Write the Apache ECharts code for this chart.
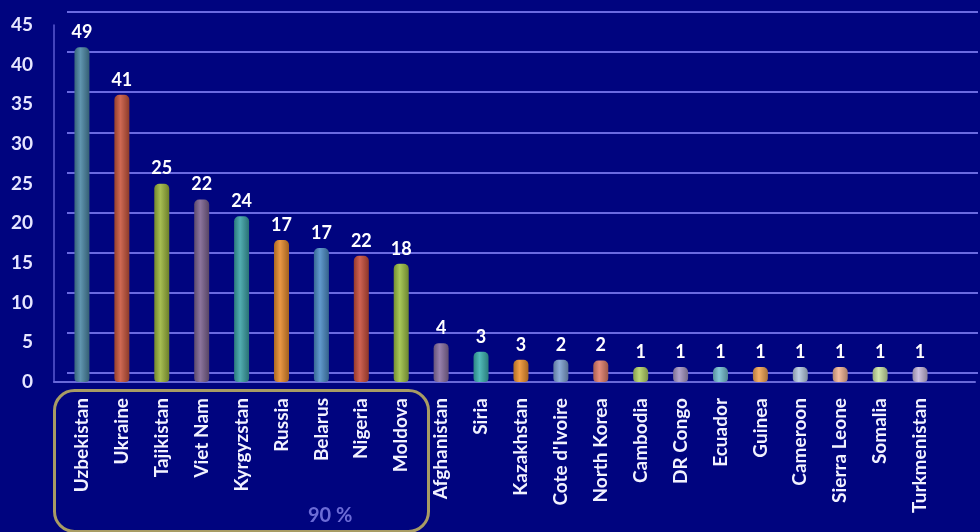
<!DOCTYPE html>
<html><head><meta charset="utf-8">
<script src="https://cdn.jsdelivr.net/npm/echarts@6/dist/echarts.min.js"></script>
<style>html,body{margin:0;padding:0;background:#00047f;}#c{width:980px;height:532px;}</style>
</head><body><div id="c"></div>
<script>
const categories = ['Uzbekistan','Ukraine','Tajikistan','Viet Nam','Kyrgyzstan','Russia','Belarus','Nigeria','Moldova','Afghanistan','Siria','Kazakhstan',"Cote d'Ivoire",'North Korea','Cambodia','DR Congo','Ecuador','Guinea','Cameroon','Sierra Leone','Somalia','Turkmenistan'];
const barValues = [42.2,36.2,25.0,23.0,20.9,17.9,16.9,15.9,14.9,4.9,3.8,2.8,2.8,2.7,1.9,1.9,1.9,1.9,1.9,1.9,1.9,1.9];
const labelValues = [49,41,25,22,24,17,17,22,18,4,3,3,2,2,1,1,1,1,1,1,1,1];
const yTicks = [0,5,10,15,20,25,30,35,40,45];
const palette = ['#4a86a4','#c8553c','#9bb53c','#7c6290','#3aa2a6','#e68a2c','#4b8cc6','#c94d3a','#9cc043','#8a70a2','#3ab2b0','#f0922e','#7fa2d2','#e27e6a','#b4d366','#a697c4','#74c0d2','#f2a452','#b6cbe2','#f2b494','#cce4a4','#c6b8dc'];

function shade(hex, f){
  const n = parseInt(hex.slice(1),16);
  let r=(n>>16)&255,g=(n>>8)&255,b=n&255;
  const m = v => Math.max(0,Math.min(255,Math.round(f<0? v*(1+f) : v+(255-v)*f)));
  return 'rgb('+m(r)+','+m(g)+','+m(b)+')';
}

const chart = echarts.init(document.getElementById('c'));
chart.setOption({
  backgroundColor: '#00047f',
  animation: false,
  grid: [
    {left: 62, right: 40, top: 25, bottom: 150},
    {left: 67, right: 2, top: 12, bottom: 159},
    {left: 54, right: 5, top: 25, bottom: 150}
  ],
  xAxis: [
    {gridIndex: 0, type: 'category', data: categories,
     axisLine: {show: false}, axisTick: {show: false},
     axisLabel: {rotate: 90, margin: 16, color: '#f2f2ff', fontFamily: 'Lato', fontWeight: 'bold', fontSize: 19, interval: 0}},
    {gridIndex: 1, type: 'category', data: categories, show: false},
    {gridIndex: 2, type: 'value', min: 0, max: 1, axisLabel: {show: false}, axisTick: {show: false}, splitLine: {show: false},
     axisLine: {show: true, lineStyle: {color: '#6868d8', width: 2}}}
  ],
  yAxis: [
    {gridIndex: 0, type: 'value', min: 0, max: 45, interval: 5, show: false},
    {gridIndex: 1, type: 'value', min: 0, max: 45, interval: 5, axisLabel: {show: false}, axisLine: {show: false}, axisTick: {show: false},
     splitLine: {show: true, lineStyle: {color: '#6a6ae0', width: 2}}},
    {gridIndex: 2, type: 'value', min: 0, max: 45, interval: 5,
     axisLine: {show: true, lineStyle: {color: '#5a5ad0', width: 1.5}}, axisTick: {show: false}, splitLine: {show: false},
     axisLabel: {margin: 21, color: '#e6e6ff', fontFamily: 'Lato', fontWeight: 'bold', fontSize: 19,
       formatter: v => yTicks.includes(v) ? String(v) : ''}}
  ],
  series: [{
    type: 'bar', xAxisIndex: 0, yAxisIndex: 0, barWidth: 15,
    data: barValues.map((v, i) => ({
      value: v,
      itemStyle: {
        borderRadius: [5,5,4,4],
        color: new echarts.graphic.LinearGradient(0,0,1,0,[
          {offset: 0, color: shade(palette[i], -0.25)},
          {offset: 0.4, color: shade(palette[i], 0.12)},
          {offset: 1, color: shade(palette[i], -0.3)}
        ])
      },
      label: {formatter: String(labelValues[i])}
    })),
    label: {show: true, position: 'top', distance: 6, color: '#ffffff', fontFamily: 'Lato', fontWeight: 'bold', fontSize: 18}
  }],
  graphic: [
    {type: 'rect', left: 52, top: 388, shape: {width: 374, height: 141, r: 20},
     style: {fill: 'none', stroke: '#a89c64', lineWidth: 3}},
    {type: 'text', left: 308, top: 506, style: {text: '90 %', fill: '#6c6cd6', font: 'bold 20px Lato'}}
  ]
});
</script></body></html>
